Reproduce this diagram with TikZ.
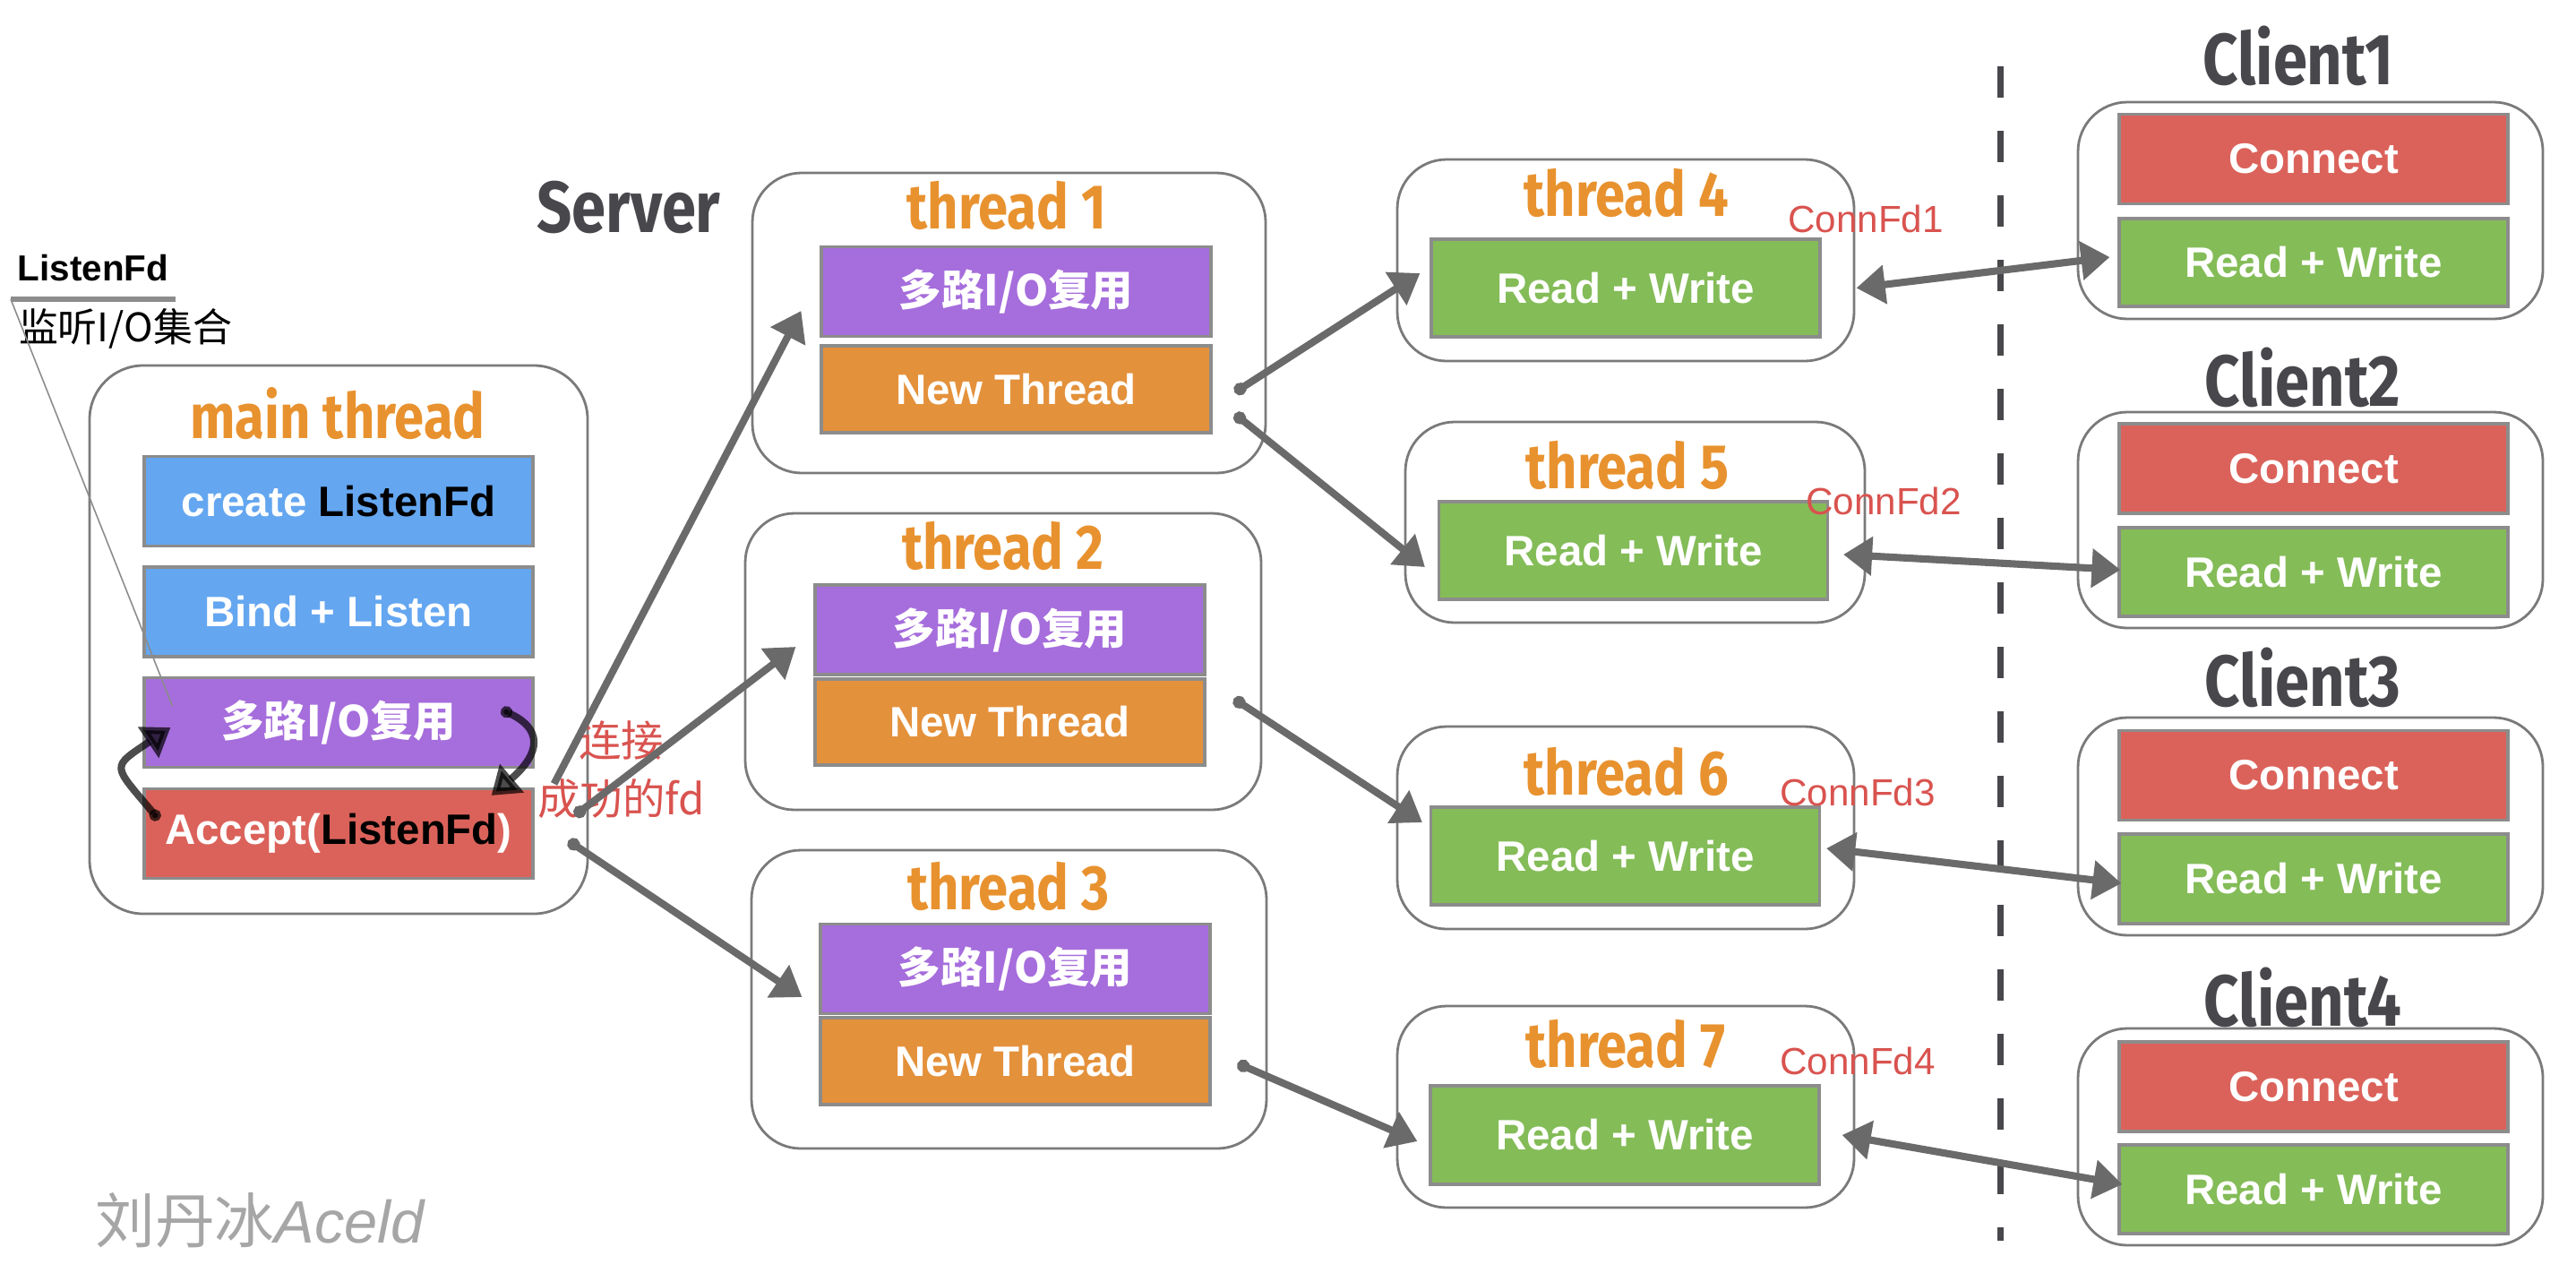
\documentclass[tikz,border=0pt]{standalone}
\usepackage{fontspec}
\setmainfont{Liberation Sans}
\newfontfamily\cjk{Noto Sans CJK SC}
\newfontfamily\hand{Fira Sans}[FakeStretch=0.85]
\usetikzlibrary{arrows.meta, positioning}
\definecolor{bluefill}{HTML}{64A6F0}
\definecolor{purplefill}{HTML}{A66DDC}
\definecolor{redfill}{HTML}{DB625A}
\definecolor{orangefill}{HTML}{E4913B}
\definecolor{greenfill}{HTML}{84BC58}
\definecolor{titleor}{HTML}{E8922F}
\definecolor{edgegray}{HTML}{8C8C8C}
\definecolor{framegray}{HTML}{7A7A7A}
\definecolor{arrowgray}{HTML}{6A6A6A}
\definecolor{darktxt}{HTML}{48484C}
\definecolor{fdred}{HTML}{D9534F}

\begin{document}
\begin{tikzpicture}[
  frame/.style={draw=framegray, line width=0.8pt, rounded corners=0.55cm, inner sep=0pt},
  fn/.style={draw=edgegray, line width=0.9pt, inner sep=0pt, minimum width=4.34cm, minimum height=1cm, text=white, font=\bfseries\fontsize{13.5}{15}\selectfont},
  bluebox/.style={fn, fill=bluefill},
  purplebox/.style={fn, fill=purplefill, font=\cjk\bfseries\fontsize{13.5}{15}\selectfont},
  redbox/.style={fn, fill=redfill},
  orangebox/.style={fn, fill=orangefill},
  greenbox/.style={fn, fill=greenfill, minimum height=1.09cm},
  ttl/.style={text=titleor, inner sep=0pt, font=\hand\bfseries\fontsize{20}{22}\selectfont},
  hdr/.style={text=darktxt, inner sep=0pt, font=\hand\bfseries\fontsize{23}{25}\selectfont},
  fdlbl/.style={text=fdred, inner sep=0pt, font=\fontsize{12}{13}\selectfont},
  tip/.tip={Triangle[length=3.2mm, width=4.2mm]},
  arr/.style={draw=arrowgray, line width=2.3pt, -tip},
  dotarr/.style={arr, {Circle[length=1.4mm]}-tip},
  darr/.style={arr, tip-tip},
  cyc/.style={draw=black, opacity=0.7, line width=2.3pt, {Circle[length=1.3mm]}-{Triangle[length=3mm, width=4mm]}},
  sepline/.style={draw=darktxt, line width=2pt, dash pattern=on 0.35cm off 0.37cm}
]
\fill[white] (0,0) rectangle (28.76,-14.2);
\useasboundingbox (0,0) rectangle (28.76,-14.2);

\node[hdr] (srv) at (7.02,-2.31) {Server};

\node[frame, rounded corners=0.6cm, minimum width=5.56cm, minimum height=6.12cm] (mainfr) at (3.78,-7.14) {};
\node[ttl] (maint) at (3.77,-4.62) {main thread};
\node[bluebox] (cre) at (3.78,-5.595) {create \textcolor{black}{ListenFd}};
\node[bluebox] (bind) at (3.78,-6.83) {Bind + Listen};
\node[purplebox] (mux) at (3.78,-8.065) {多路I/O复用};
\node[redbox] (acc) at (3.78,-9.305) {Accept(\textcolor{black}{ListenFd})};

\node[inner sep=0pt, font=\bfseries\fontsize{11.5}{13}\selectfont] (lfd) at (1.04,-2.99) {ListenFd};
\coordinate (ula) at (0.12,-3.34);
\coordinate (ulb) at (1.96,-3.34);
\draw[edgegray, line width=1.7pt] (ula) -- (ulb);
\node[inner sep=0pt, font=\cjk\fontsize{12.5}{14}\selectfont] (lset) at (1.40,-3.67) {监听I/O集合};
\draw[edgegray, line width=0.45pt] (ula) -- ([xshift=0.33cm, yshift=0.185cm]mux.west);

\draw[cyc] ([xshift=-0.37cm, yshift=0.145cm]mux.east) to[out=-25, in=40, looseness=1.6] ([xshift=-0.48cm, yshift=-0.09cm]acc.north east);
\draw[cyc] ([xshift=0.18cm, yshift=0.155cm]acc.west) to[out=130, in=214, looseness=2] ([xshift=0.31cm, yshift=-0.055cm]mux.west);

\node[text=fdred, align=center, inner sep=0pt, font=\cjk\fontsize{13.5}{18.5}\selectfont] (conlbl) at (6.935,-8.595) {连接\\成功的fd};

\node[frame, minimum width=5.73cm, minimum height=3.35cm] (t1fr) at (11.265,-3.605) {};
\node[ttl] (t1) at (11.24,-2.29) {thread 1};
\node[purplebox, minimum width=4.35cm] (p1) at (11.345,-3.255) {多路I/O复用};
\node[orangebox, minimum width=4.35cm, minimum height=0.97cm] (o1) at (11.345,-4.345) {New Thread};

\node[frame, minimum width=5.76cm, minimum height=3.31cm] (t2fr) at (11.20,-7.385) {};
\node[ttl] (t2) at (11.20,-6.09) {thread 2};
\node[purplebox, minimum width=4.35cm] (p2) at (11.275,-7.03) {多路I/O复用};
\node[orangebox, minimum width=4.35cm, minimum height=0.96cm] (o2) at (11.275,-8.06) {New Thread};

\node[frame, minimum width=5.75cm, minimum height=3.33cm] (t3fr) at (11.265,-11.155) {};
\node[ttl] (t3) at (11.26,-9.89) {thread 3};
\node[purplebox, minimum width=4.35cm] (p3) at (11.335,-10.815) {多路I/O复用};
\node[orangebox, minimum width=4.35cm, minimum height=0.97cm] (o3) at (11.335,-11.845) {New Thread};

\node[frame, minimum width=5.10cm, minimum height=2.25cm] (t4fr) at (18.15,-2.905) {};
\node[ttl] (t4) at (18.16,-2.15) {thread 4};
\node[greenbox] (g4) at (18.15,-3.215) {Read + Write};
\node[fdlbl] (cf1) at (20.83,-2.44) {ConnFd1};

\node[frame, minimum width=5.13cm, minimum height=2.24cm] (t5fr) at (18.255,-5.83) {};
\node[ttl] (t5) at (18.17,-5.19) {thread 5};
\node[greenbox] (g5) at (18.235,-6.145) {Read + Write};
\node[fdlbl] (cf2) at (21.03,-5.59) {ConnFd2};

\node[frame, minimum width=5.10cm, minimum height=2.26cm] (t6fr) at (18.15,-9.24) {};
\node[ttl] (t6) at (18.16,-8.61) {thread 6};
\node[greenbox] (g6) at (18.145,-9.555) {Read + Write};
\node[fdlbl] (cf3) at (20.74,-8.84) {ConnFd3};

\node[frame, minimum width=5.10cm, minimum height=2.25cm] (t7fr) at (18.15,-12.355) {};
\node[ttl] (t7) at (18.15,-11.65) {thread 7};
\node[greenbox, minimum height=1.1cm] (g7) at (18.14,-12.67) {Read + Write};
\node[fdlbl] (cf4) at (20.74,-11.84) {ConnFd4};

\coordinate (sepa) at (22.33,-0.74);
\coordinate (sepb) at (22.33,-13.85);
\draw[sepline] (sepa) -- (sepb);

\node[hdr] (cl1) at (25.66,-0.62) {Client1};
\node[frame, minimum width=5.19cm, minimum height=2.42cm] (c1fr) at (25.795,-2.35) {};
\node[redbox] (c1con) at (25.83,-1.775) {Connect};
\node[greenbox, minimum height=0.98cm] (c1rw) at (25.83,-2.93) {Read + Write};

\node[hdr] (cl2) at (25.71,-4.21) {Client2};
\node[frame, minimum width=5.19cm, minimum height=2.41cm] (c2fr) at (25.795,-5.805) {};
\node[redbox] (c2con) at (25.83,-5.23) {Connect};
\node[greenbox, minimum height=0.99cm] (c2rw) at (25.83,-6.385) {Read + Write};

\node[hdr] (cl3) at (25.71,-7.56) {Client3};
\node[frame, minimum width=5.19cm, minimum height=2.43cm] (c3fr) at (25.795,-9.225) {};
\node[redbox] (c3con) at (25.83,-8.655) {Connect};
\node[greenbox, minimum height=1cm] (c3rw) at (25.83,-9.81) {Read + Write};

\node[hdr] (cl4) at (25.71,-11.13) {Client4};
\node[frame, minimum width=5.19cm, minimum height=2.42cm] (c4fr) at (25.795,-12.69) {};
\node[redbox] (c4con) at (25.83,-12.13) {Connect};
\node[greenbox, minimum height=0.99cm] (c4rw) at (25.83,-13.275) {Read + Write};

\node[text=black!35, inner sep=0pt, font=\cjk\fontsize{19}{20}\selectfont] (wm) at (2.9,-13.62) {刘丹冰{\rmfamily\itshape Aceld}};

\draw[arr] ([xshift=0.22cm, yshift=0.04cm]acc.north east) -- ([xshift=-0.21cm, yshift=-0.215cm]p1.west);
\draw[dotarr] ([xshift=0.45cm, yshift=0.2cm]acc.east) -- ([xshift=-0.2cm, yshift=-0.19cm]p2.west);
\draw[dotarr] ([xshift=0.38cm, yshift=-0.08cm]acc.east) -- ([xshift=-0.19cm, yshift=-0.315cm]p3.west);

\draw[dotarr] ([xshift=0.25cm, yshift=-0.035cm]o1.east) -- ([xshift=-0.11cm, yshift=0.165cm]g4.west);
\draw[dotarr] ([xshift=0.25cm, yshift=-0.275cm]o1.east) -- ([xshift=-0.14cm, yshift=-0.185cm]g5.west);
\draw[dotarr] ([xshift=0.31cm, yshift=0.26cm]o2.east) -- ([xshift=-0.08cm, yshift=0.375cm]g6.west);
\draw[dotarr] ([xshift=0.29cm, yshift=-0.025cm]o3.east) -- ([xshift=-0.13cm, yshift=-0.07cm]g7.west);

\draw[darr] ([xshift=0.39cm]g4.east) -- ([xshift=-0.09cm, yshift=0.06cm]c1rw.west);
\draw[darr] ([xshift=0.16cm, yshift=-0.045cm]g5.east) -- ([xshift=0.03cm, yshift=0.025cm]c2rw.west);
\draw[darr] ([xshift=0.06cm, yshift=0.085cm]g6.east) -- ([xshift=0.04cm, yshift=-0.05cm]c3rw.west);
\draw[darr] ([xshift=0.24cm]g7.east) -- ([xshift=0.05cm, yshift=0.055cm]c4rw.west);
\end{tikzpicture}
\end{document}
